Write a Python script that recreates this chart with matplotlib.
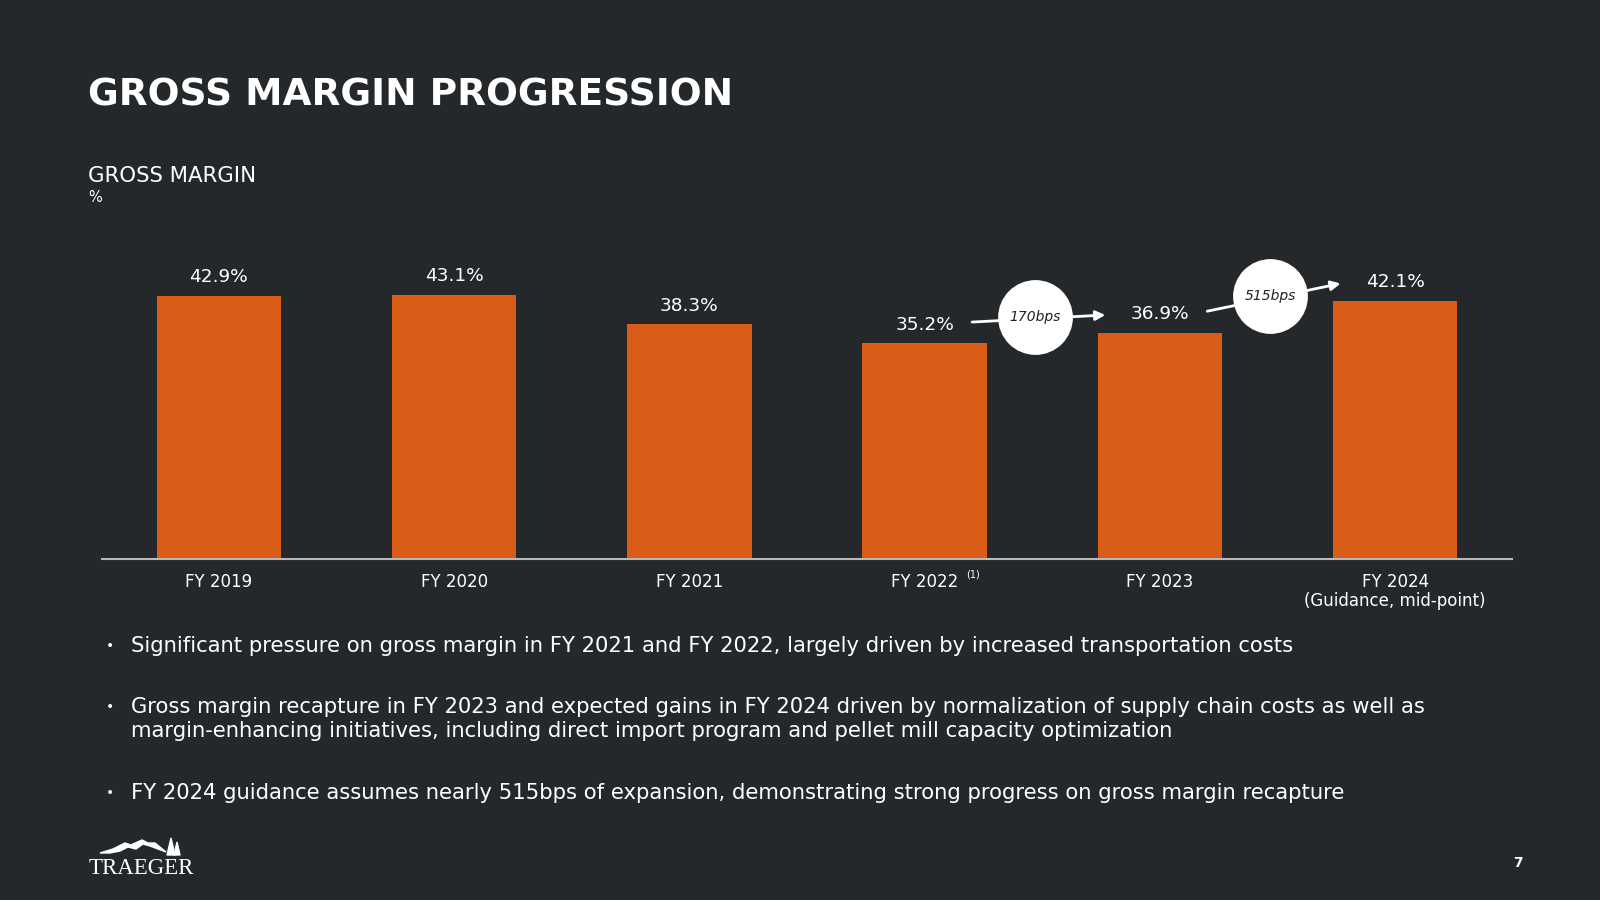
import numpy as np
import matplotlib.pyplot as plt
from matplotlib.patches import Polygon

# chart values
years = ["FY 2019", "FY 2020", "FY 2021", "FY 2022", "FY 2023", "FY 2024"]
margins = [42.9, 43.1, 38.3, 35.2, 36.9, 42.1]
value_labels = ["42.9%", "43.1%", "38.3%", "35.2%", "36.9%", "42.1%"]
bps_steps = [(3, 4, "170bps"), (4, 5, "515bps")]
bullets = [
    "Significant pressure on gross margin in FY 2021 and FY 2022, largely driven by increased transportation costs",
    "Gross margin recapture in FY 2023 and expected gains in FY 2024 driven by normalization of supply chain costs as well as\nmargin-enhancing initiatives, including direct import program and pellet mill capacity optimization",
    "FY 2024 guidance assumes nearly 515bps of expansion, demonstrating strong progress on gross margin recapture",
]

BG = "#25282b"
ORANGE = "#d95c17"
WHITE = "#ffffff"
plt.rcParams['font.family'] = ['DejaVu Sans']

fig = plt.figure(figsize=(16, 9), dpi=100, facecolor=BG)

# main bar axes, placed to match the slide
ax = fig.add_axes([0.06375, 0.3789, 0.88125, 0.3408])
ax.set_facecolor(BG)
x = np.arange(len(years))
ax.bar(x, margins, width=0.53, color=ORANGE, zorder=2)
ax.set_xlim(-0.497, len(years) - 1 + 0.497)
ax.set_ylim(0, 50)

for i, (v, lab) in enumerate(zip(margins, value_labels)):
    ax.text(i, v + 3.0, lab, ha='center', va='center', color=WHITE, fontsize=13.3)

# bps change bubbles with arrows
for a, b, lab in bps_steps:
    y0 = margins[a] + 3.4
    y1 = margins[b] + 2.9
    ax.annotate("", xy=(b - 0.22, y1), xytext=(a + 0.19, y0),
                arrowprops=dict(arrowstyle="-|>", color=WHITE, lw=2, mutation_scale=14),
                zorder=3)
    bx = (a + b) / 2 - 0.03
    by = (y0 + y1) / 2 + 0.3
    ax.scatter([bx], [by], s=2900, color=WHITE, zorder=4, linewidths=0)
    ax.text(bx, by, lab, ha='center', va='center', color="#222222", fontsize=10,
            style='italic', zorder=5)

for s in ['top', 'right', 'left']:
    ax.spines[s].set_visible(False)
ax.spines['bottom'].set_color("#b8b8b8")
ax.spines['bottom'].set_linewidth(1.5)
ax.set_yticks([])
ax.set_xticks(x)
ax.set_xticklabels(years, color=WHITE, fontsize=12)
ax.tick_params(axis='x', length=0, pad=10)

# footnote marker and guidance note under the axis
ax.annotate("(1)", xy=(3, 0), xycoords='data', xytext=(30, -11), textcoords='offset points',
            color=WHITE, fontsize=7, ha='left', va='center')
ax.annotate("(Guidance, mid-point)", xy=(5, 0), xycoords='data', xytext=(0, -30),
            textcoords='offset points', color=WHITE, fontsize=12, ha='center', va='center')

# titles
fig.text(88 / 1600, 1 - 96 / 900, "GROSS MARGIN PROGRESSION", color=WHITE, fontsize=27,
         fontweight='bold', va='center', ha='left')
fig.text(88 / 1600, 1 - 176 / 900, "GROSS MARGIN", color=WHITE, fontsize=15.3, va='center')
fig.text(88 / 1600, 1 - 198 / 900, "%", color=WHITE, fontsize=10.5, va='center')

# bullets
bullet_y = [646, 719, 793]
for yb, txt in zip(bullet_y, bullets):
    dot_y = 707 if "\n" in txt else yb
    fig.text(110 / 1600, 1 - dot_y / 900, "\u2022", color=WHITE, fontsize=10,
             va='center', ha='center')
    fig.text(131 / 1600, 1 - yb / 900, txt, color=WHITE, fontsize=15.2, va='center',
             ha='left', linespacing=1.28)

# logo
fig.text(89 / 1600, 1 - 869 / 900, "TRAEGER", color=WHITE, fontsize=16.5,
         family=['Liberation Serif', 'DejaVu Serif'], va='center', ha='left')
lax = fig.add_axes([98 / 1600, 1 - 856 / 900, 84 / 1600, 20 / 900])
lax.set_xlim(0, 84)
lax.set_ylim(0, 20)
lax.axis('off')
mountain = Polygon([[2, 3], [15, 7], [27, 13], [33, 11], [44, 16], [50, 13], [57, 13],
                    [68, 4], [60, 7], [52, 10], [45, 12], [38, 7], [30, 9], [22, 5], [12, 3]],
                   closed=True, color=WHITE)
lax.add_patch(mountain)
lax.add_patch(Polygon([[69, 1], [73, 18], [77, 1]], closed=True, color=WHITE))
lax.add_patch(Polygon([[76, 1], [79, 14], [82, 1]], closed=True, color=WHITE))

fig.text(1518 / 1600, 1 - 863 / 900, "7", color=WHITE, fontsize=10, fontweight='bold',
         va='center', ha='center')

fig.savefig("out.png", dpi=100, facecolor=BG)
